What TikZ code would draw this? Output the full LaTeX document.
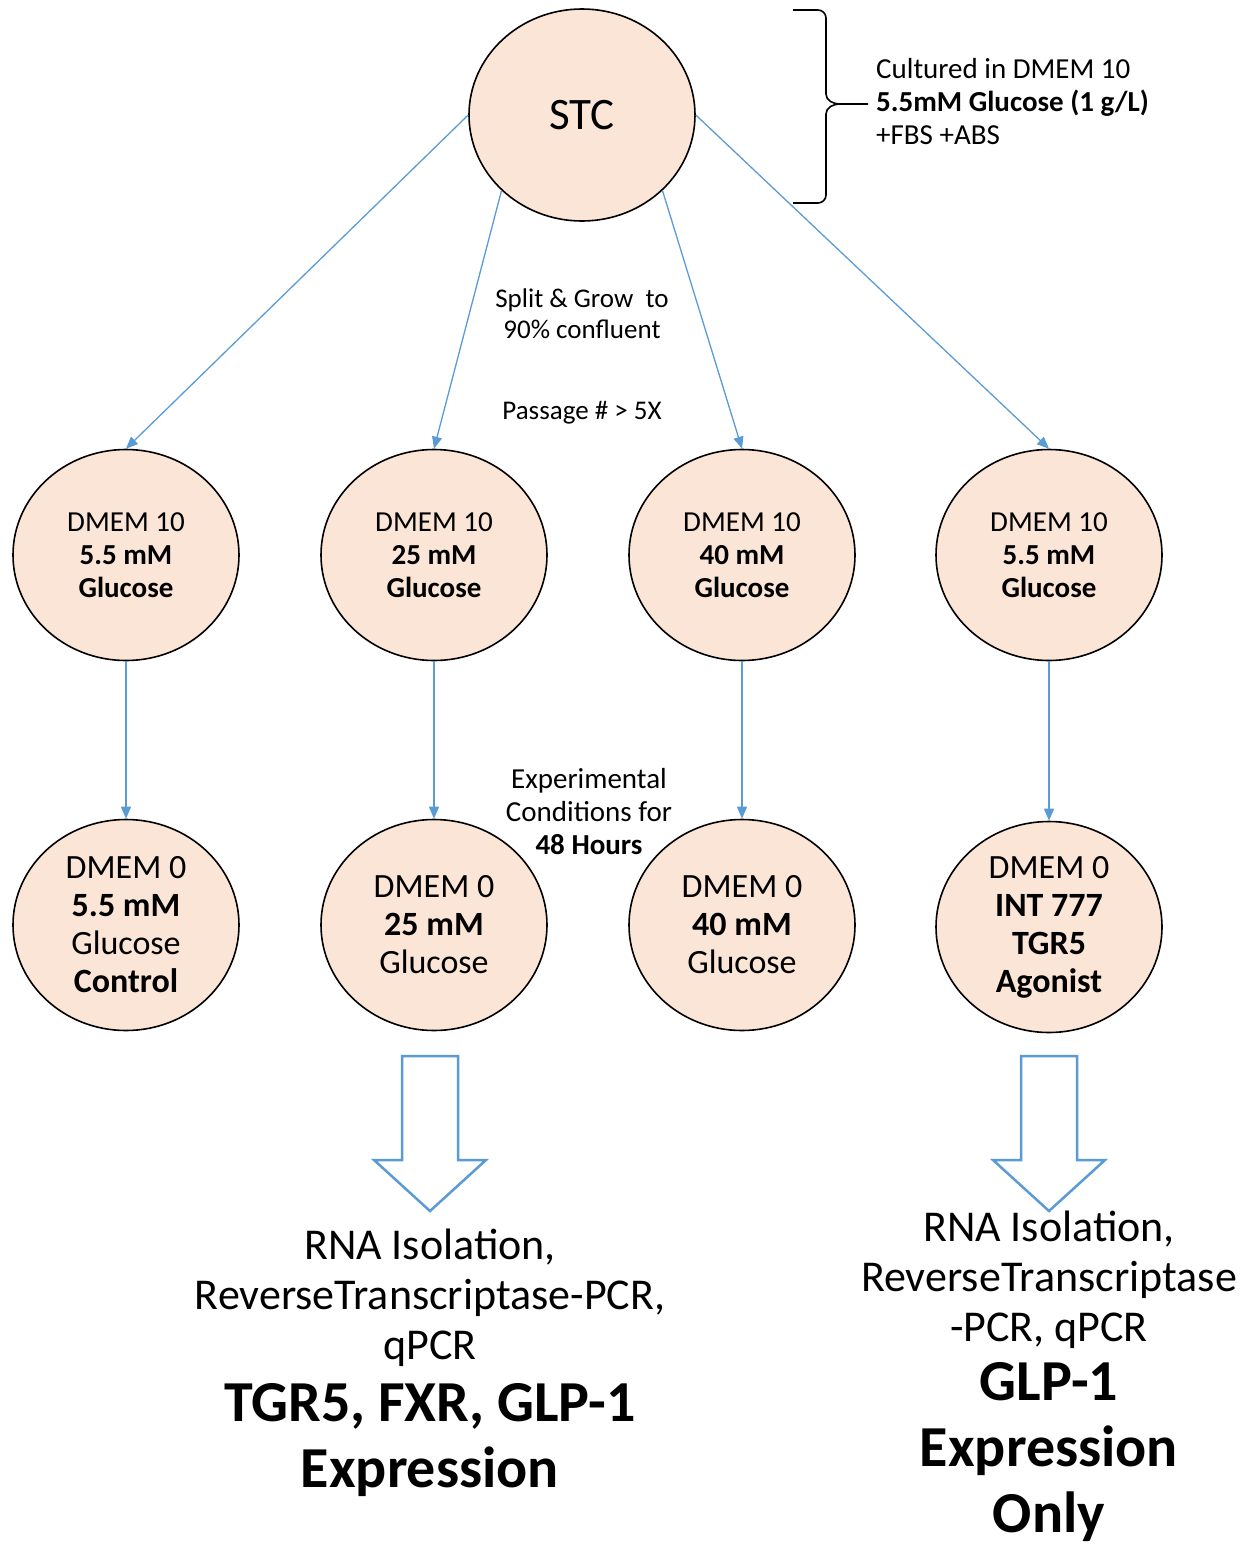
\documentclass[tikz,border=0pt]{standalone}
\usepackage{fontspec}
\setmainfont{Carlito}
\usetikzlibrary{shapes.geometric,arrows.meta}

\definecolor{cellfill}{RGB}{251,229,214}
\definecolor{flowblue}{RGB}{91,155,213}

\newcommand{\fsz}[2]{\fontsize{#1}{#2}\selectfont}

\tikzset{
  dish/.style={ellipse, draw=black, line width=1.6pt, fill=cellfill,
    minimum width=226pt, minimum height=211pt, align=center, inner sep=0pt},
  flow/.style={draw=flowblue, line width=1.3pt, -{Triangle[length=12pt,width=10pt]}},
  bigarrow/.style={draw=flowblue, line width=2.5pt, fill=white, line join=miter},
}

\begin{document}
\begin{tikzpicture}[x=1pt,y=-1pt]
      \useasboundingbox (0,0) rectangle (1256,1545);

      % Starting culture and its medium
      \node[dish, minimum height=212pt, font=\fsz{45}{50}] (stc) at (582,115) {STC};
      \draw[line width=1.6pt] (793,10) -- (818,10) to[out=0,in=90] (826,18) -- (826,94)
        to[out=-90,in=180] (840,104) -- (868,104);
      \draw[line width=1.6pt] (840,104) to[out=180,in=90] (826,114) -- (826,195)
        to[out=-90,in=0] (818,203) -- (793,203);
      \node[font=\fsz{29}{33}, align=left, anchor=west, inner sep=0pt] (culture) at (876,102)
        {Cultured in DMEM 10\\\textbf{5.5mM Glucose (1 g/L)}\\+FBS +ABS};

      % Growth media (DMEM 10)
      \node[dish, font=\fsz{29}{33}] (m1) at (126,555) {DMEM 10\\\textbf{5.5 mM}\\\textbf{Glucose}};
      \node[dish, font=\fsz{29}{33}] (m2) at (434,555) {DMEM 10\\\textbf{25 mM}\\\textbf{Glucose}};
      \node[dish, font=\fsz{29}{33}] (m3) at (742,555) {DMEM 10\\\textbf{40 mM}\\\textbf{Glucose}};
      \node[dish, font=\fsz{29}{33}] (m4) at (1049,555) {DMEM 10\\\textbf{5.5 mM}\\\textbf{Glucose}};

      % Experimental media (DMEM 0)
      \node[dish, font=\fsz{34}{38}] (c1) at (126,925) {DMEM 0\\\textbf{5.5 mM}\\Glucose\\\textbf{Control}};
      \node[dish, font=\fsz{34}{38}] (c2) at (434,925) {DMEM 0\\\textbf{25 mM}\\Glucose};
      \node[dish, font=\fsz{34}{38}] (c3) at (742,925) {DMEM 0\\\textbf{40 mM}\\Glucose};
      \node[dish, font=\fsz{34}{38}] (c4) at (1049,927) {DMEM 0\\\textbf{INT 777}\\\textbf{TGR5}\\\textbf{Agonist}};

      % Split arrows
      \draw[flow] (stc.west) -- (m1.north);
      \draw[flow] (stc.south west) -- (m2.north);
      \draw[flow] (stc.south east) -- (m3.north);
      \draw[flow] (stc.east) -- (m4.north);
      \foreach \i in {1,...,4} {
        \draw[flow] (m\i.south) -- (c\i.north);
      }

      % Step labels
      \node[font=\fsz{27}{31}, align=center] (split) at (582,314) {Split \& Grow\ \ to\\90\% confluent};
      \node[font=\fsz{27}{31}] (passage) at (582,413) {Passage \# > 5X};
      \node[font=\fsz{29}{33}, align=center] (exp) at (589,812) {Experimental\\Conditions for\\\textbf{48 Hours}};

      % Block arrows to the read-outs
      \foreach \x in {430,1049} {
        \draw[bigarrow] ({\x-28},1056) -- ({\x+28},1056) -- ({\x+28},1160) -- ({\x+56},1160)
          -- (\x,1211) -- ({\x-56},1160) -- ({\x-28},1160) -- cycle;
      }

      % Read-outs
      \node[font=\fsz{44}{50}, align=center] (rnaL) at (430,1298) {RNA Isolation,\\ReverseTranscriptase-PCR,\\qPCR};
      \node[font=\fsz{58}{66}\bfseries, align=center] (exprL) at (430,1440) {TGR5, FXR, GLP-1\\Expression};
      \node[font=\fsz{44}{50}, align=center] (rnaR) at (1049,1280) {RNA Isolation,\\ReverseTranscriptase\\-PCR, qPCR};
      \node[font=\fsz{58}{66}\bfseries, align=center] (exprR) at (1049,1452) {GLP-1\\Expression\\Only};
\end{tikzpicture}
\end{document}
